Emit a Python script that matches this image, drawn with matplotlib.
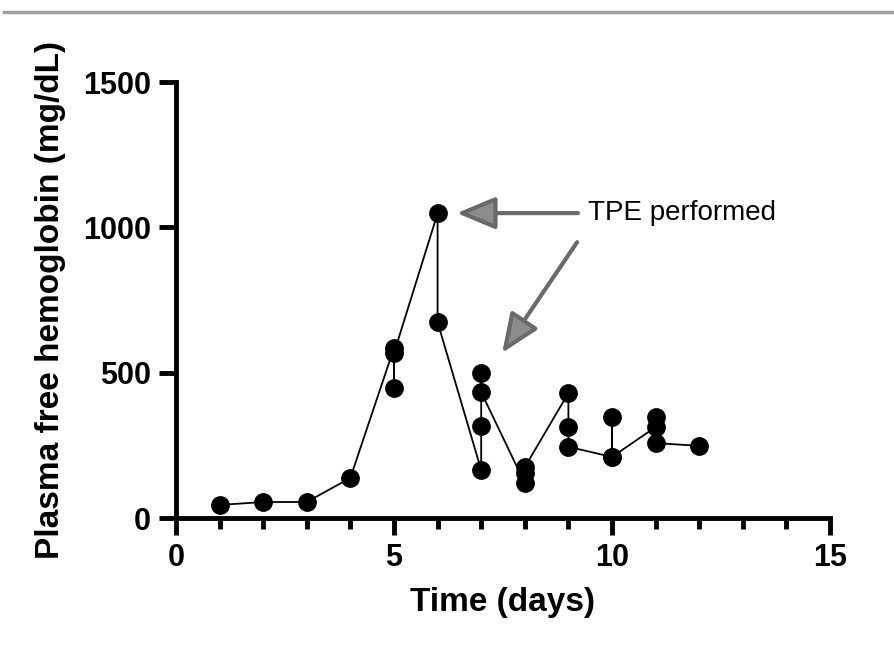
"""
Plasma free hemoglobin over time, with TPE annotation
"""

import matplotlib
matplotlib.use("Agg")
import matplotlib.pyplot as plt
from matplotlib.lines import Line2D
from matplotlib.ticker import MultipleLocator

plt.rcParams['font.family'] = ['Liberation Sans', 'DejaVu Sans']

# values in the order the line visits them
days = [1, 2, 3, 4, 5, 5, 5, 6, 6, 7, 7, 7, 7, 8, 8, 8,
        9, 9, 9, 10, 10, 10, 11, 11, 11, 12]
hb = [45, 55, 55, 138, 585, 447, 567, 1048, 674, 165, 316, 499, 433,
      120, 155, 175, 430, 313, 245, 210, 348, 210, 313, 348, 258, 248]

x_ticks = [0, 5, 10, 15]
y_ticks = [0, 500, 1000, 1500]
label_text = "TPE performed"


def main():
    fig = plt.figure(figsize=(8.95, 6.52), dpi=100)
    ax = fig.add_axes([0.1966, 0.2055, 0.7308, 0.6687])

    ax.plot(days, hb, color='black', lw=1.3, marker='o', ms=12.5,
            mfc='black', mec='black', zorder=3, clip_on=False)

    ax.set_xlim(0, 15)
    ax.set_ylim(0, 1500)
    ax.set_xticks(x_ticks)
    ax.set_yticks(y_ticks)
    ax.xaxis.set_minor_locator(MultipleLocator(1))

    for s in ['top', 'right']:
        ax.spines[s].set_visible(False)
    for s in ['left', 'bottom']:
        ax.spines[s].set_linewidth(3.5)
    ax.tick_params(which='major', length=12, width=3.5, labelsize=22, pad=6)
    ax.tick_params(axis='x', which='minor', length=8, width=3.5)
    for lab in ax.get_xticklabels() + ax.get_yticklabels():
        lab.set_fontweight('bold')

    ax.set_xlabel("Time (days)", fontsize=24, fontweight='bold', labelpad=10)
    ax.set_ylabel("Plasma free hemoglobin (mg/dL)", fontsize=24,
                  fontweight='bold', labelpad=12)

    # arrows pointing at the TPE days
    arrow_style = dict(arrowstyle='-|>,head_length=2.4,head_width=1.0',
                       mutation_scale=10, lw=3.0, color='#555555',
                       fc='#8c8c8c', ec='#6a6a6a', shrinkA=0, shrinkB=0)
    ax.annotate("", xy=(6.44, 1049), xytext=(9.22, 1049),
                arrowprops=arrow_style)
    ax.annotate("", xy=(7.48, 568), xytext=(9.2, 949),
                arrowprops=arrow_style)
    ax.text(9.45, 1049, label_text, fontsize=20, va='center', ha='left')

    # grey rule at the top of the figure
    fig.add_artist(Line2D([0.005, 1.0], [0.982, 0.982], color='#a0a0a0', lw=2.5))

    fig.savefig("out.png", dpi=100)


if __name__ == "__main__":
    main()
